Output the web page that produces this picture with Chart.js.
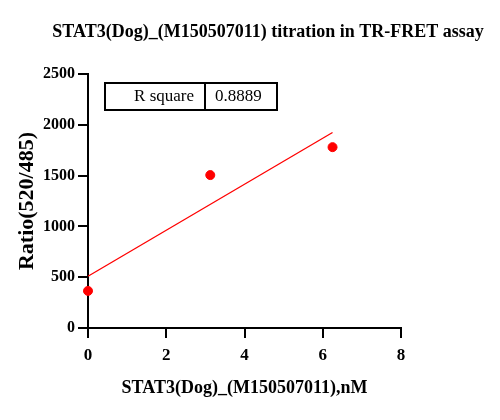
<!DOCTYPE html>
<html>
<head>
<meta charset="utf-8">
<script src="https://cdn.jsdelivr.net/npm/chart.js@4/dist/chart.umd.min.js"></script>
<style>
  body { margin: 0; background: #fff; }
  #wrap { width: 500px; height: 420px; }
</style>
</head>
<body>
<div id="wrap"><canvas id="titrationChart" width="500" height="420"></canvas></div>
<script>
// measured points
const concX = [0, 3.125, 6.25];
const ratioY = [365, 1505, 1780];
// linear fit endpoints
const fitX = [0, 6.25];
const fitY = [509, 1924];
const rSquare = '0.8889';

const xTicks = [0, 2, 4, 6, 8];
const yTicks = [0, 500, 1000, 1500, 2000, 2500];

const titleText = 'STAT3(Dog)_(M150507011) titration in TR-FRET assay';
const xTitle = 'STAT3(Dog)_(M150507011),nM';
const yTitle = 'Ratio(520/485)';

const serif = '"Liberation Serif", "Times New Roman", serif';

// title and the R square box are drawn by hand
const extras = {
    id: 'extras',
    afterDraw(chart) {
        const ctx = chart.ctx;
        ctx.save();
        ctx.fillStyle = '#000';
        ctx.font = 'bold 18px ' + serif;
        ctx.textAlign = 'center';
        ctx.textBaseline = 'middle';
        ctx.fillText(titleText, 268, 32);

        // R square table
        ctx.strokeStyle = '#000';
        ctx.lineWidth = 2;
        ctx.strokeRect(105, 83, 172, 27);
        ctx.beginPath();
        ctx.moveTo(205, 83);
        ctx.lineTo(205, 110);
        ctx.stroke();
        ctx.font = '17px ' + serif;
        ctx.textAlign = 'right';
        ctx.fillText('R square', 194, 97);
        ctx.textAlign = 'left';
        ctx.fillText(rSquare, 215, 97);
        ctx.restore();
    }
};

const ctx = document.getElementById('titrationChart').getContext('2d');
const myChart = new Chart(ctx, {
    type: 'scatter',
    data: {
        datasets: [{
            label: 'data',
            data: concX.map((x, i) => ({ x: x, y: ratioY[i] })),
            backgroundColor: '#ff0000',
            borderColor: '#ff0000',
            pointRadius: 4.5,
            pointHoverRadius: 4.5,
            clip: false
        },
        {
            label: 'fit',
            data: fitX.map((x, i) => ({ x: x, y: fitY[i] })),
            showLine: true,
            borderColor: '#ff0000',
            borderWidth: 1.3,
            pointRadius: 0,
            clip: false
        }]
    },
    options: {
        responsive: false,
        animation: false,
        events: [],
        layout: {
            padding: { left: 0, right: 99, top: 74, bottom: 17 }
        },
        plugins: {
            legend: { display: false },
            title: { display: false },
            tooltip: { enabled: false }
        },
        scales: {
            x: {
                type: 'linear',
                min: 0,
                max: 8,
                afterBuildTicks: (scale) => { scale.ticks = xTicks.map(v => ({ value: v })); },
                afterFit: (scale) => { scale.height = 75; },
                border: { color: '#000', width: 2 },
                grid: { drawOnChartArea: false, drawTicks: true, tickLength: 10, color: '#000', lineWidth: 2 },
                ticks: {
                    color: '#000',
                    padding: 7,
                    font: { family: serif, size: 17, weight: 'bold' }
                },
                title: {
                    display: true,
                    text: xTitle,
                    color: '#000',
                    padding: { top: 10 },
                    font: { family: serif, size: 18, weight: 'bold' }
                }
            },
            y: {
                type: 'linear',
                min: 0,
                max: 2500,
                afterBuildTicks: (scale) => { scale.ticks = yTicks.map(v => ({ value: v })); },
                afterFit: (scale) => { scale.width = 88; },
                border: { color: '#000', width: 2 },
                grid: { drawOnChartArea: false, drawTicks: true, tickLength: 10, color: '#000', lineWidth: 2 },
                ticks: {
                    color: '#000',
                    padding: 3,
                    callback: (v) => String(v),
                    font: { family: serif, size: 16, weight: 'bold' }
                },
                title: {
                    display: true,
                    text: yTitle,
                    color: '#000',
                    padding: { top: 14, bottom: 0 },
                    font: { family: serif, size: 22, weight: 'bold' }
                }
            }
        }
    },
    plugins: [extras]
});
</script>
</body>
</html>
